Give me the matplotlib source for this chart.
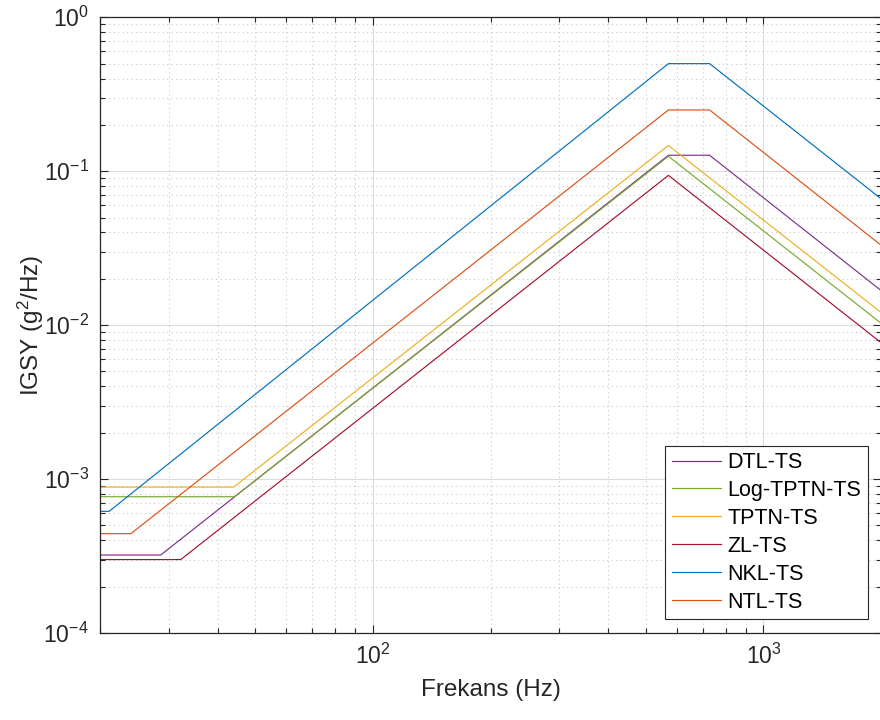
import matplotlib
matplotlib.use("Agg")
import matplotlib.pyplot as plt
from matplotlib.ticker import LogLocator, NullFormatter

plt.rcParams['font.family'] = ['Liberation Sans', 'DejaVu Sans']
plt.rcParams['mathtext.fontset'] = 'custom'
plt.rcParams['mathtext.rm'] = 'Liberation Sans'
plt.rcParams['mathtext.it'] = 'Liberation Sans:italic'

# PSD profile breakpoints (Hz, g^2/Hz)
labels = ["DTL-TS", "Log-TPTN-TS", "TPTN-TS", "ZL-TS", "NKL-TS", "NTL-TS"]
colors = ["#7E2F8E", "#77AC30", "#EDB120", "#A2142F", "#0072BD", "#D95319"]

dtl_f = [20, 28.6, 571, 728, 2000]
dtl_v = [3.21e-4, 3.21e-4, 0.127, 0.127, 0.0168]

logtptn_f = [20, 44.2, 571, 2000]
logtptn_v = [7.68e-4, 7.68e-4, 0.125, 0.0103]

tptn_f = [20, 44.0, 571, 2000]
tptn_v = [8.87e-4, 8.87e-4, 0.147, 0.0121]

zl_f = [20, 32.2, 571, 2000]
zl_v = [3.0e-4, 3.0e-4, 0.094, 0.0077]

nkl_f = [20, 21.1, 571, 728, 2000]
nkl_v = [6.17e-4, 6.17e-4, 0.5, 0.5, 0.0663]

ntl_f = [20, 24.0, 571, 728, 2000]
ntl_v = [4.42e-4, 4.42e-4, 0.25, 0.25, 0.0331]

series = [(dtl_f, dtl_v), (logtptn_f, logtptn_v), (tptn_f, tptn_v),
          (zl_f, zl_v), (nkl_f, nkl_v), (ntl_f, ntl_v)]

fig = plt.figure(figsize=(8.8, 7.2), dpi=100)
ax = fig.add_axes([100 / 880, (720 - 633) / 720, 781 / 880, 615.7 / 720])

for (f, v), lab, c in zip(series, labels, colors):
    ax.loglog(f, v, color=c, lw=0.85, label=lab)

ax.set_xlim(20, 2000)
ax.set_ylim(1e-4, 1e0)

ax.yaxis.set_major_locator(LogLocator(base=10, numticks=10))
ax.yaxis.set_minor_locator(LogLocator(base=10, subs=range(2, 10), numticks=20))
ax.xaxis.set_minor_locator(LogLocator(base=10, subs=range(2, 10), numticks=20))
ax.xaxis.set_minor_formatter(NullFormatter())
ax.yaxis.set_minor_formatter(NullFormatter())

ax.grid(True, which='major', color='#dcdcdc', lw=0.8, ls='-')
ax.grid(True, which='minor', color='#c8c8c8', lw=0.8, ls=(0, (1, 3)))
ax.set_axisbelow(True)

ax.tick_params(which='both', direction='in', top=True, right=True,
               color='#262626', labelcolor='#262626')
ax.tick_params(which='major', length=6, width=0.8, labelsize=16.5, pad=8)
ax.tick_params(which='minor', length=3.5, width=0.8)
for s in ax.spines.values():
    s.set_color('#262626')
    s.set_linewidth(0.9)

ax.set_xlabel("Frekans (Hz)", fontsize=17.5, color='#262626', labelpad=7)
ax.set_ylabel("IGSY (g$^2$/Hz)", fontsize=17.5, color='#262626', labelpad=-2)

leg = ax.legend(loc='lower right', bbox_to_anchor=(868 / 880, (720 - 619) / 720),
                bbox_transform=fig.transFigure, fontsize=15.5, frameon=True,
                fancybox=False, edgecolor='#262626', framealpha=1,
                handlelength=2.3, handletextpad=0.3, labelspacing=0.32,
                borderpad=0.3, borderaxespad=0)
leg.get_frame().set_linewidth(0.8)

fig.savefig("out.png", dpi=100)
